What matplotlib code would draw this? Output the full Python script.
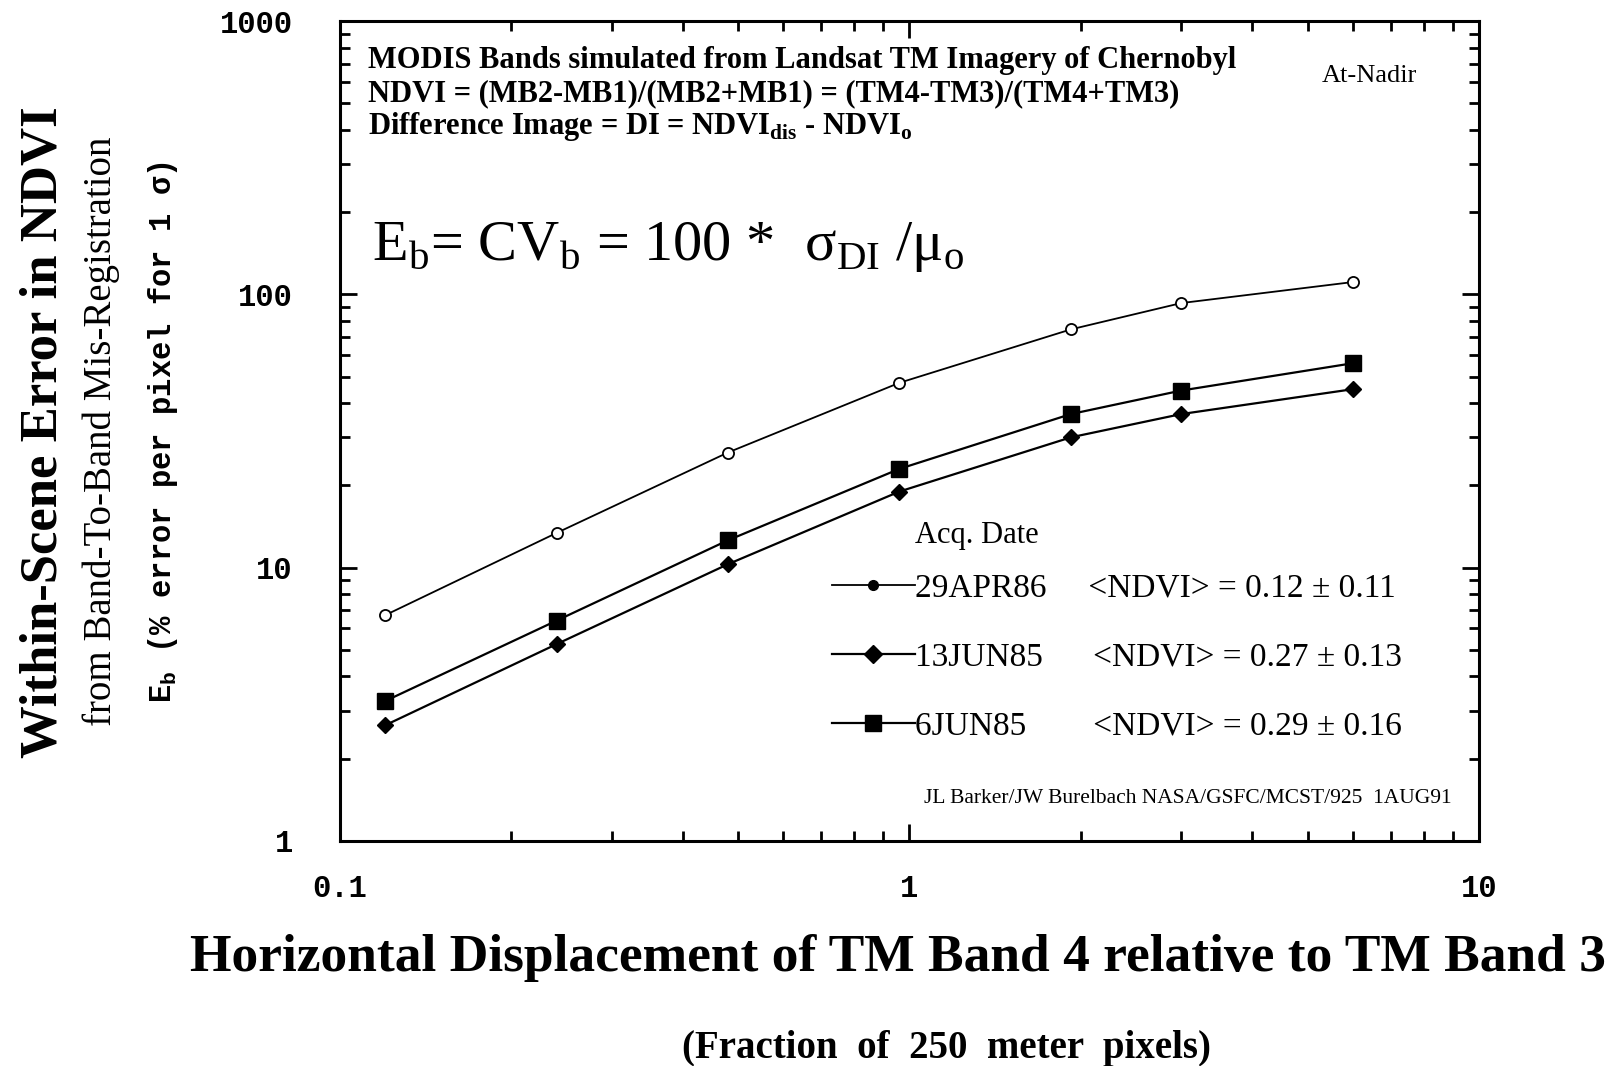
import matplotlib
matplotlib.use("Agg")
import matplotlib.pyplot as plt
from matplotlib.lines import Line2D
from matplotlib.ticker import LogLocator, FixedLocator, FixedFormatter, NullFormatter

plt.rcParams["font.family"] = ["Liberation Serif", "DejaVu Serif"]
plt.rcParams["mathtext.fontset"] = "custom"
plt.rcParams["mathtext.rm"] = "Liberation Serif"

# displacement, fraction of 250 m pixels
displacement = [0.12, 0.24, 0.48, 0.96, 1.92, 3.0, 6.0]

# within-scene error E_b (%)
err_29apr86 = [6.7, 13.4, 26.4, 47.5, 74.5, 93, 111]
err_13jun85 = [2.65, 5.25, 10.3, 19.0, 30.0, 36.5, 45.0]
err_6jun85 = [3.25, 6.4, 12.6, 23.0, 36.5, 44.5, 56.0]

dates = ["29APR86", "13JUN85", "6JUN85"]
ndvi_stats = ["<NDVI> = 0.12 ± 0.11", "<NDVI> = 0.27 ± 0.13", "<NDVI> = 0.29 ± 0.16"]

y_ticks = [1, 10, 100, 1000]
y_labels = ["1", "10", "100", "1000"]
x_ticks = [0.1, 1, 10]
x_labels = ["0.1", "1", "10"]

fig = plt.figure(figsize=(16.12, 10.66), dpi=100)
ax = fig.add_axes([0.2109, 0.2111, 0.7066, 0.769])

ax.plot(displacement, err_29apr86, color="black", lw=1.3, marker="o",
        ms=8, mfc="white", mec="black", mew=1.3)
ax.plot(displacement, err_13jun85, color="black", lw=1.6, marker="D",
        ms=8.5, mfc="black", mec="black")
ax.plot(displacement, err_6jun85, color="black", lw=1.6, marker="s",
        ms=12, mfc="black", mec="black")

ax.set_xscale("log")
ax.set_yscale("log")
ax.set_xlim(0.1, 10)
ax.set_ylim(1, 1000)

for s in ax.spines.values():
    s.set_linewidth(2.2)

ax.xaxis.set_major_locator(FixedLocator(x_ticks))
ax.xaxis.set_major_formatter(FixedFormatter(x_labels))
ax.yaxis.set_major_locator(FixedLocator(y_ticks))
ax.yaxis.set_major_formatter(FixedFormatter(y_labels))
ax.xaxis.set_minor_locator(LogLocator(base=10, subs=range(2, 10)))
ax.yaxis.set_minor_locator(LogLocator(base=10, subs=range(2, 10)))
ax.xaxis.set_minor_formatter(NullFormatter())
ax.yaxis.set_minor_formatter(NullFormatter())
ax.tick_params(which="both", direction="in", top=True, right=True, width=2)
ax.tick_params(which="major", length=12)
ax.tick_params(which="minor", length=7)
ax.tick_params(axis="y", which="major", pad=34, labelsize=22)
ax.tick_params(axis="x", which="major", pad=24, labelsize=22)
for lab in ax.get_xticklabels() + ax.get_yticklabels():
    lab.set_fontweight("bold")
    lab.set_family(["Liberation Mono", "DejaVu Sans Mono"])

# header texts
ax.text(0.025, 0.952, "MODIS Bands simulated from Landsat TM Imagery of Chernobyl",
        transform=ax.transAxes, fontsize=22, fontweight="bold", va="center")
ax.text(0.025, 0.912, "NDVI = (MB2-MB1)/(MB2+MB1) = (TM4-TM3)/(TM4+TM3)",
        transform=ax.transAxes, fontsize=22, fontweight="bold", va="center")
ax.text(0.025, 0.872, r"Difference Image = DI = NDVI$_{\mathregular{dis}}$ - NDVI$_{\mathregular{o}}$",
        transform=ax.transAxes, fontsize=22, fontweight="bold", va="center")
ax.text(0.862, 0.933, "At-Nadir", transform=ax.transAxes, fontsize=19, va="center")

ax.text(0.028, 0.725,
        r"E$_{\mathregular{b}}$= CV$_{\mathregular{b}}$ = 100 *  $\mathregular{\sigma}_{\mathregular{DI}}$ /$\mathregular{\mu}_{\mathregular{o}}$",
        transform=ax.transAxes, fontsize=42, va="center")

ax.text(0.505, 0.373, "Acq. Date", transform=ax.transAxes, fontsize=22, va="center")

handles = [
    Line2D([], [], color="black", lw=1.3, marker="o", ms=7, mfc="black"),
    Line2D([], [], color="black", lw=1.6, marker="D", ms=9, mfc="black"),
    Line2D([], [], color="black", lw=1.6, marker="s", ms=12, mfc="black"),
]
labels = [dates[0] + "     " + ndvi_stats[0],
          dates[1] + "      " + ndvi_stats[1],
          dates[2] + "        " + ndvi_stats[2]]
leg = ax.legend(handles, labels, loc="upper left", bbox_to_anchor=(0.42, 0.343),
                frameon=False, fontsize=24, handlelength=2.5, handletextpad=0.0,
                labelspacing=1.16, borderaxespad=0)

ax.text(0.513, 0.052, "JL Barker/JW Burelbach NASA/GSFC/MCST/925  1AUG91",
        transform=ax.transAxes, fontsize=15.5, va="center")

# axis titles
fig.text(0.557, 0.101, "Horizontal Displacement of TM Band 4 relative to TM Band 3",
         ha="center", va="center", fontsize=38.5, fontweight="bold")
fig.text(0.587, 0.016, "(Fraction  of  250  meter  pixels)",
         ha="center", va="center", fontsize=28, fontweight="bold")

fig.text(0.027, 0.595, "Within-Scene Error in NDVI", rotation=90,
         ha="center", va="center", fontsize=38, fontweight="bold")
fig.text(0.063, 0.595, "from Band-To-Band Mis-Registration", rotation=90,
         ha="center", va="center", fontsize=28)
fig.text(0.101, 0.595, r"E$_{\mathregular{b}}$ (% error per pixel for 1 σ)", rotation=90,
         ha="center", va="center", fontsize=22, fontweight="bold",
         family=["Liberation Mono", "DejaVu Sans Mono"])

fig.savefig("out.png", dpi=100)
